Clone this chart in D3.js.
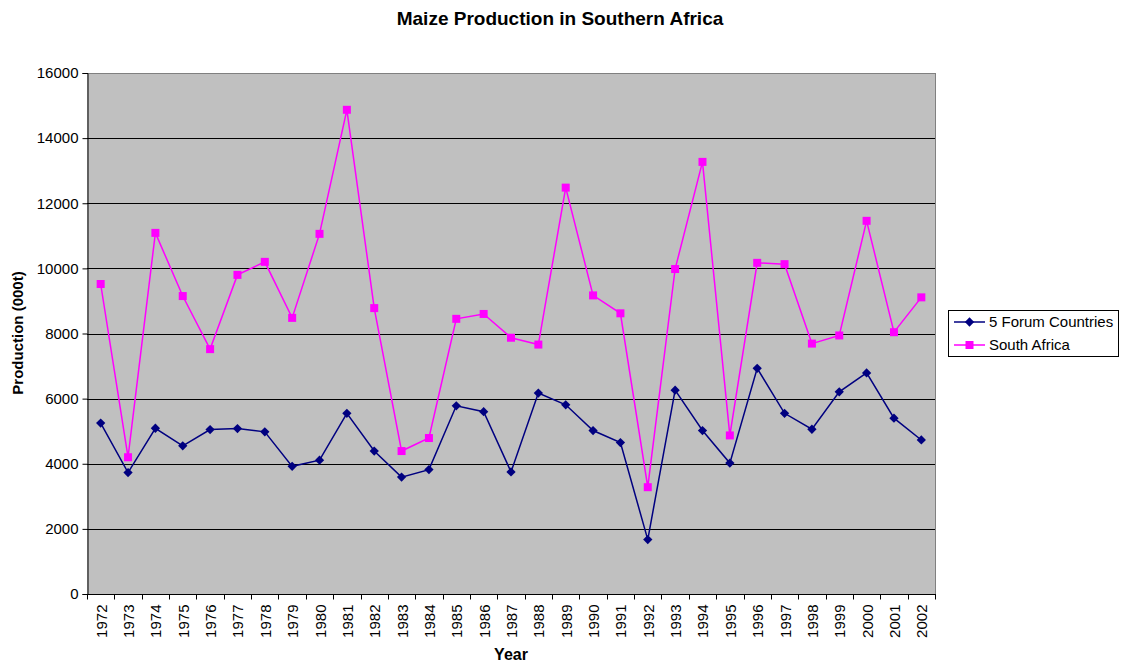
<!DOCTYPE html>
<html><head><meta charset="utf-8">
<script src="https://cdn.jsdelivr.net/npm/d3@7"></script>
<style>body{margin:0;background:#fff;font-family:"Liberation Sans",Arial,sans-serif}</style>
</head><body>
<svg id="chart" width="1126" height="665"></svg>
<script>
const years = ["1972","1973","1974","1975","1976","1977","1978","1979","1980","1981","1982","1983","1984","1985","1986","1987","1988","1989","1990","1991","1992","1993","1994","1995","1996","1997","1998","1999","2000","2001","2002"];
const forumValues = [5250,3730,5090,4550,5050,5080,4980,3920,4110,5550,4390,3590,3820,5780,5600,3750,6170,5810,5020,4650,1670,6260,5020,4020,6930,5550,5060,6210,6790,5400,4730];
const southAfricaValues = [9520,4200,11090,9150,7520,9800,10200,8480,11060,14870,8780,4390,4790,8450,8600,7870,7660,12480,9170,8620,3280,9980,13270,4870,10170,10130,7690,7940,11460,8040,9110];
const yTicks = [0,2000,4000,6000,8000,10000,12000,14000,16000];
const seriesNames = ["5 Forum Countries","South Africa"];
const seriesColors = ["#000080","#ff00ff"];

(function(){
const svg = d3.select("#chart");
const pL = 87, pR = 935, pT = 73, pB = 594;
const x = d3.scaleBand().domain(years).range([pL, pR]);
const y = d3.scaleLinear().domain([0,16000]).range([pB, pT]);

svg.append("rect").attr("x",pL).attr("y",pT).attr("width",pR-pL).attr("height",pB-pT).attr("fill","#c0c0c0");
svg.append("g").selectAll("line").data(yTicks.filter(d=>d>0)).join("line")
  .attr("x1",pL).attr("x2",pR).attr("y1",d=>Math.round(y(d))+0.5).attr("y2",d=>Math.round(y(d))+0.5)
  .attr("stroke",d=>d===16000?"#808080":"#000").attr("stroke-width",1);
svg.append("line").attr("x1",pR+0.5).attr("x2",pR+0.5).attr("y1",pT).attr("y2",pB).attr("stroke","#808080");

const yAxis = d3.axisLeft(y).tickValues(yTicks).tickSize(5).tickPadding(4).tickFormat(d3.format("d"));
const gy = svg.append("g").attr("transform",`translate(${pL+0.5},0)`).call(yAxis);
gy.select(".domain").attr("stroke","#000");
gy.selectAll("text").attr("font-size","15px").attr("font-family","Liberation Sans, Arial").attr("fill","#000");

const gx = svg.append("g").attr("transform",`translate(0,${pB+0.5})`);
gx.append("line").attr("x1",pL).attr("x2",pR+1).attr("stroke","#000");
gx.selectAll("line.tk").data(d3.range(years.length+1)).join("line").attr("class","tk")
  .attr("x1",i=>Math.round(pL+i*x.bandwidth())+0.5).attr("x2",i=>Math.round(pL+i*x.bandwidth())+0.5).attr("y1",0).attr("y2",5).attr("stroke","#000");
gx.selectAll("text").data(years).join("text")
  .attr("transform",d=>`translate(${x(d)+x.bandwidth()/2+6},10) rotate(-90)`)
  .attr("text-anchor","end").attr("font-size","15px").attr("fill","#000").text(d=>d);

const series = [forumValues, southAfricaValues];
const line = d3.line().x((d,i)=>x(years[i])+x.bandwidth()/2).y(d=>y(d));
series.forEach((vals,si)=>{
  svg.append("path").datum(vals).attr("d",line).attr("fill","none").attr("stroke",seriesColors[si]).attr("stroke-width",1.5);
});
const diamond = d3.symbol().type(d3.symbolDiamond2).size(55);
svg.append("g").selectAll("path").data(forumValues).join("path")
  .attr("transform",(d,i)=>`translate(${x(years[i])+x.bandwidth()/2},${y(d)})`)
  .attr("d",diamond()).attr("fill",seriesColors[0]);
svg.append("g").selectAll("rect").data(southAfricaValues).join("rect")
  .attr("x",(d,i)=>x(years[i])+x.bandwidth()/2-4).attr("y",d=>y(d)-4).attr("width",8).attr("height",8).attr("fill",seriesColors[1]);

svg.append("text").attr("x",560).attr("y",25).attr("text-anchor","middle").attr("font-size","19px").attr("font-weight","bold").text("Maize Production in Southern Africa");
svg.append("text").attr("transform","translate(23,333) rotate(-90)").attr("text-anchor","middle").attr("font-size","15px").attr("font-weight","bold").text("Production (000t)");
svg.append("text").attr("x",511).attr("y",660).attr("text-anchor","middle").attr("font-size","16px").attr("font-weight","bold").text("Year");

const lg = svg.append("g");
lg.append("rect").attr("x",948.5).attr("y",310.5).attr("width",170).attr("height",46).attr("fill","#fff").attr("stroke","#000");
seriesNames.forEach((n,i)=>{
  const yy = 322 + i*23;
  lg.append("line").attr("x1",954).attr("x2",985).attr("y1",yy).attr("y2",yy).attr("stroke",seriesColors[i]).attr("stroke-width",1.5);
  if(i===0) lg.append("path").attr("transform",`translate(969.5,${yy})`).attr("d",diamond()).attr("fill",seriesColors[0]);
  else lg.append("rect").attr("x",965.5).attr("y",yy-4).attr("width",8).attr("height",8).attr("fill",seriesColors[1]);
  lg.append("text").attr("x",989).attr("y",yy+5).attr("font-size","15px").text(n);
});
})();
</script>
</body></html>
